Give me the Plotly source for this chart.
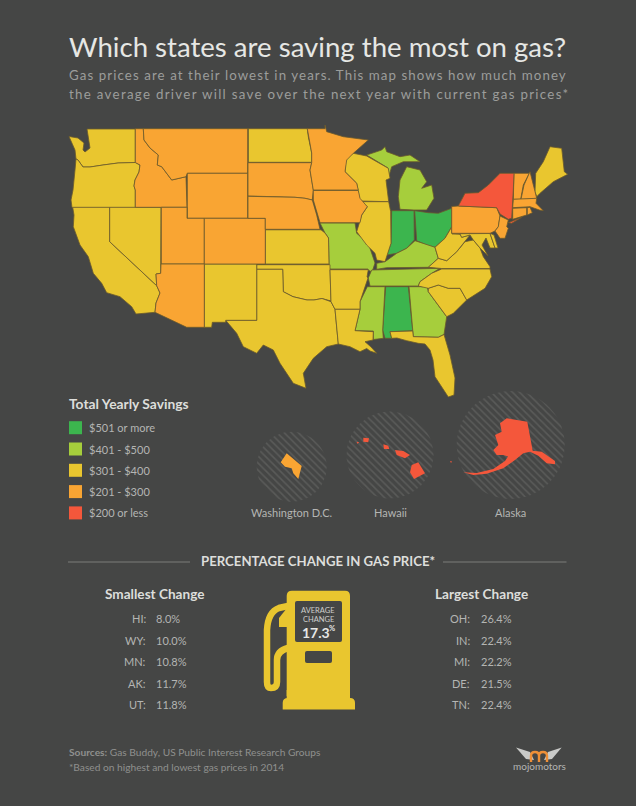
import numpy as np
import plotly.graph_objects as go

BG = "#454645"
GREEN = "#3CB54E"
LIME = "#A6CE3C"
YELLOW = "#E9C62F"
ORANGE = "#F9A533"
RED = "#F4573B"

# savings bucket for each state
over_500 = ["IN", "OH", "AL"]
from_401 = ["MI", "MO", "KY", "TN", "MS", "GA"]
from_301 = ["WA", "OR", "CA", "NV", "ND", "KS", "OK", "TX", "NM", "AR", "LA", "WI", "IL", "FL",
            "SC", "NC", "VA", "WV", "MD", "DE", "ME"]
from_201 = ["ID", "MT", "WY", "UT", "CO", "AZ", "SD", "NE", "MN", "IA", "PA", "NJ", "VT", "NH",
            "MA", "CT", "RI", "DC"]
under_200 = ["NY", "HI", "AK"]

legend_labels = ["$501 or more", "$401 - $500", "$301 - $400", "$201 - $300", "$200 or less"]
legend_colors = [GREEN, LIME, YELLOW, ORANGE, RED]

smallest_states = ["HI:", "WY:", "MN:", "AK:", "UT:"]
smallest_values = ["8.0%", "10.0%", "10.8%", "11.7%", "11.8%"]
largest_states = ["OH:", "IN:", "MI:", "DE:", "TN:"]
largest_values = ["26.4%", "22.4%", "22.2%", "21.5%", "22.4%"]

inset_names = ["Washington D.C.", "Hawaii", "Alaska"]
inset_x = [291.7, 390, 510.7]
inset_y = [466.7, 455, 445]
inset_r = [35, 43.5, 54]

# outlines, no map files offline
outlines = {
    "WA": [[(87,129),(135.3,129),(135.3,162.5),(118,163),(103,165),(90,167),(83,167),(78,160),(76,159),(75,150),(71,141),(69,136.5),(78,138),(84,143),(83,150),(85,152),(90,148),(89,140),(88,135)]],
    "OR": [[(76,159),(78,160),(83,167),(90,167),(103,165),(118,163),(135.3,162.5),(140,165),(139,172),(135,180),(134,186),(135.3,190),(135.3,207.5),(72,207.5),(71,200),(73,190),(75,170)]],
    "CA": [[(72.7,207.3),(109.7,207.3),(109.7,241.7),(156.7,285.7),(160,293),(156,303),(155,312.3),(136,314),(131.7,306.7),(120,296.7),(106.7,292.7),(101.7,283.3),(93.3,273.3),(88.3,256.7),(80,245),(73.3,226.7),(74,215)]],
    "NV": [[(109.7,207.3),(161,207.3),(160.7,273.3),(156,274),(156.7,285.7),(109.7,241.7)]],
    "ID": [[(135.3,128.7),(143.3,128.7),(144,140),(150,148),(158.3,155),(157.3,165),(161.7,166.7),(171.7,180),(186,176.7),(187,207.3),(135.3,207.3),(135.3,190),(134,186),(135,180),(139,172),(140,165),(135.3,162.5)]],
    "MT": [[(143.3,128.7),(247.7,128.7),(247.7,173.3),(187.3,173.3),(186,176.7),(171.7,180),(161.7,166.7),(157.3,165),(158.3,155),(150,148),(144,140)]],
    "WY": [[(187.3,173.3),(247.7,173.3),(247.7,218.3),(187.3,218.3)]],
    "UT": [[(161.3,207.3),(187,207.3),(187,218.3),(204.3,218.3),(204.3,264),(161.3,264)]],
    "CO": [[(204.3,218.3),(265.3,218.3),(265.3,264),(204.3,264)]],
    "AZ": [[(161,264),(204.3,264),(204.3,327.3),(186.7,327.3),(155,312.3),(156,303),(160,293),(156.7,285.7),(156,274),(160.7,273.3)]],
    "NM": [[(204.3,264),(256.7,264),(256.7,320.3),(225.7,320.3),(225.7,322.3),(212.3,322.3),(211.7,327.3),(204.3,327.3)]],
    "ND": [[(248.3,128.7),(307.3,128.7),(308.3,136.7),(311.7,153),(311.7,162.3),(248.3,162.3)]],
    "SD": [[(248,162.7),(311.7,162.7),(310,170),(313.3,190),(312.3,200),(305,198.3),(295,197.3),(248,196)]],
    "NE": [[(248,196.3),(295,197.3),(305,198.3),(312.3,200),(316.7,215),(320,229.3),(265.3,229.3),(265.3,218.3),(248,218.3)]],
    "KS": [[(265.3,229.8),(321,229.8),(325,233),(328.5,238),(329,264),(265.3,264)]],
    "OK": [[(256.7,264.7),(330,264.7),(330,269.5),(331,301),(322,298.5),(314,300),(307,300),(293,296.7),(283.3,291.7),(282.7,269.3),(256.7,269.3)]],
    "TX": [[(256.7,269.3),(282.7,269.3),(283.3,291.7),(293,296.7),(307,300),(314,300),(322,298.5),(331,301.7),(335,309.3),(338,340),(338.3,344),(326.7,346.7),(313.3,358.3),(303.3,373.3),(306,388.3),(293.3,383.3),(280,363.3),(273.3,350),(263.3,345),(256.7,353.3),(243.3,346.7),(236.7,333.3),(225.7,320.3),(256.7,320.3)]],
    "MN": [[(307.3,128.7),(325,128.7),(325,125),(326.7,131.7),(343.3,136.7),(368.3,140),(353.3,153.3),(346.7,160),(345,171.7),(356.7,183.3),(358.3,190),(313.3,190),(310,170),(311.7,162.7),(311.7,153),(308.3,136.7)]],
    "IA": [[(313.3,190.5),(358.3,190.5),(360,198.3),(367.3,206.7),(361.7,215),(360,222.7),(320,222.7),(318.3,216.7),(313.3,200)]],
    "MO": [[(320,223),(355,223),(356.7,233.3),(368.3,243.3),(375,263),(372,272),(368,270),(368,269),(329.7,269),(329,264),(328.5,238),(325,233)]],
    "AR": [[(330,269.7),(368.3,269.7),(367,277),(368,278),(360,301.7),(360,309.3),(335,309.3),(331,301.7)]],
    "LA": [[(335,309.3),(360,309.3),(355,330.7),(373.3,331.7),(373,340),(365,341.7),(371,347),(376.7,353.3),(370,351),(366.7,348.5),(360,351.7),(350,346.7),(338.3,344),(338,340)]],
    "WI": [[(346,158.3),(353.3,153.3),(366.7,156),(388.3,168.3),(390,178.3),(386,180),(388.7,201.7),(375,201.7),(360,201),(356.7,183.3),(345,171.7)]],
    "IL": [[(360,201.7),(388.7,201.7),(390.7,211.7),(391,243.3),(385,261.7),(376.7,260),(375,253.3),(366.7,245),(356.7,231.7),(361.7,215),(367.3,206.7)]],
    "IN": [[(391.7,210.7),(414,210.7),(414.3,240),(406.7,248.3),(396.7,253.3),(386.7,255),(391,243.3)]],
    "OH": [[(414.7,210.7),(428.3,212.7),(438.3,213.3),(451.7,208.3),(451.7,226.7),(445,238.3),(435,247.3),(426.7,245),(416.7,240.7)]],
    "MI": [[(400,209.3),(398.3,196.7),(400,180),(406.7,166.7),(420,170),(426.7,181.7),(421.7,188.3),(431.7,185),(434,198.3),(426.7,210),(414,210)],
           [(366.7,155),(381.7,150),(385,146.7),(386.7,151.7),(400,156.7),(410,155),(420,161.7),(403.3,161.7),(391.7,166.7),(388.3,178.3),(388,168)]],
    "KY": [[(376.7,263.3),(385,261.7),(396.7,253.3),(406.7,248.3),(415,240.7),(426.7,245),(435,247.3),(438.3,258.3),(428.3,267.3),(386.7,267.7),(376.7,269.3)]],
    "TN": [[(371.7,270),(440,268.3),(431.7,273.3),(420,281.7),(418.3,286),(370,286),(368.3,278)]],
    "MS": [[(367.3,286.7),(385,286.7),(382.7,330),(383.3,338.3),(373.3,339.5),(373.3,331),(355,330.7),(360,309.3),(360,301.7)]],
    "AL": [[(385.7,286.7),(408.3,286.7),(412.7,330.7),(390,331.7),(391.7,338.3),(385,338.3),(382.7,330)]],
    "GA": [[(409,286.7),(427.3,286.7),(428.3,291.7),(446.7,316.7),(444,334.5),(438.3,337.3),(413.3,336.7),(412.7,330.7)]],
    "FL": [[(390,331.7),(412.7,331),(413.3,336.7),(438.3,337.3),(444,334.5),(450,355),(455,378),(454,395),(448.3,397),(441.7,386.7),(435,376.7),(433,360),(430,350),(425,344),(418.3,343.3),(406.7,340.7),(397,338),(391.7,338.3)]],
    "SC": [[(428.3,288.3),(438.3,285),(448.3,288.3),(460,288.3),(466.7,300),(453.3,313.3),(446.7,316.7),(428.3,291.7)]],
    "NC": [[(441.7,269),(490,269),(491.7,276.7),(485,288.3),(466.7,300),(460,288.3),(448.3,288.3),(438.3,285),(428.3,288.3),(418.3,286),(420,281.7),(431.7,273.3)]],
    "VA": [[(428.3,267.3),(438.3,258.3),(446.7,260.7),(456.7,251.7),(465,241.7),(473.3,240),(480,248),(483.3,256.7),(490,266.7),(490,268.5),(441.7,268.5)]],
    "WV": [[(435,247.3),(445,238.3),(451.7,227),(451.7,233.3),(460,234),(461.7,237.3),(470,235),(465,241.7),(456.7,251.7),(446.7,260.7),(438.3,258.3)]],
    "MD": [[(452,233.8),(490,233.5),(495,248),(490,248),(486,238),(482,245),(488,256),(480,248),(473.3,240),(470,235),(461.7,237.3),(460,234)]],
    "DE": [[(490,233.3),(494,235),(498,248),(495,248)]],
    "PA": [[(451.7,206.5),(458.3,206),(496.7,207.7),(500,216),(498.3,226.7),(495,231),(490,233.3),(451.7,233.3)]],
    "NJ": [[(500,216),(508.3,220),(506.7,226.7),(508.3,228.3),(505,238.3),(500,238.3),(495,231),(498.3,226.7)]],
    "NY": [[(458.3,206),(465,193.3),(478.3,192.7),(488.3,185),(500,173.3),(514,173.3),(513.3,190),(512.7,208.3),(511.7,218.3),(508.3,219.3),(500,214),(496.7,207.7)],
           [(508.3,222.7),(521.7,217.3),(511.7,223.3)]],
    "VT": [[(514,173.3),(529.3,173.3),(523.3,185),(520.7,199.3),(513.3,199.3),(513.3,190)]],
    "NH": [[(530,171.7),(535,190),(536.7,198.3),(521,199.3),(524,185)]],
    "ME": [[(535,191.7),(535.7,173.3),(543.3,161.7),(550,146.7),(561.7,148.3),(564.3,171.7),(567.7,174.3),(553.3,181.7),(540,193.3),(536.7,196.7)]],
    "MA": [[(513.3,199.3),(536.7,198.3),(536,203.3),(543.3,210.7),(539.3,210),(530,206.7),(512.7,207.7)]],
    "CT": [[(512.7,208.3),(526.7,207.7),(526.7,215),(512.7,219.3)]],
    "RI": [[(527.3,207.7),(530,207.3),(532.3,212.7),(527.3,215)]],
    "DC": [[(280.7,462.3),(286.7,453.3),(301.7,466),(298.3,479),(293.3,473.3),(291.7,468.3),(285,466.7)]],
    "HI": [[(411.7,465),(418.3,462.3),(425,473.3),(414,479),(410,472.3)],
           [(395,450),(403.3,451),(410,455),(405,458.3),(396.7,455)],
           [(383.3,444.3),(388.3,445.7),(389.3,449),(384,449)],
           [(363.3,437.7),(369,438.3),(368.3,442.3),(363.3,441.7)],
           [(356.7,441.7),(359.3,442.3),(357.3,443.7)]],
    "AK": [[(500,423.3),(506.7,418.3),(527.3,421.7),(532.7,450.7),(541.7,451.7),(555,461),(555,464.3),(546.7,463.3),(538.3,455.7),(530,451.7),(523.3,453.3),(515,460),(503.3,468.3),(486.7,473.8),(473.3,475),(463.3,472.3),(476.7,473),(493.3,469),(505,461),(508,456.5),(503.3,455),(496.7,455),(493.3,450),(498.3,445),(495,435),(501.7,431.7)],
           [(450,461),(452,461.5),(451,463)]],
}


def text(x, y, s, size, color="#B4B5B3", anchor="left", family="Lato"):
    if anchor == "left":
        x = x - 1.5
    fig.add_annotation(x=x, y=y, text=s, showarrow=False, xanchor=anchor, yanchor="middle",
                       xref="x", yref="y", font=dict(size=size, color=color, family=family),
                       align=anchor)


fig = go.Figure()

# hatched circles behind the insets
angle = np.linspace(0, 2 * np.pi, 90)
for cx, cy, r in zip(inset_x, inset_y, inset_r):
    fig.add_trace(go.Scatter(x=cx + r * np.cos(angle), y=cy + r * np.sin(angle), mode="lines",
                             line=dict(width=0), fill="toself", fillcolor="rgba(0,0,0,0)",
                             fillpattern=dict(shape="\\", fgcolor="#6F706E", bgcolor=BG, size=5, solidity=0.3),
                             hoverinfo="skip"))

buckets = [(over_500, GREEN), (from_401, LIME), (from_301, YELLOW), (from_201, ORANGE), (under_200, RED)]
for states, color in buckets:
    for st in states:
        for part in outlines[st]:
            xs = [p[0] for p in part] + [part[0][0]]
            ys = [p[1] for p in part] + [part[0][1]]
            border = 0 if st in ["DC", "HI", "AK"] else 0.8
            fig.add_trace(go.Scatter(x=xs, y=ys, mode="lines", fill="toself", fillcolor=color,
                                     line=dict(color="#6B5A2C", width=border), name=st, hoverinfo="name"))

# legend squares
fig.add_trace(go.Scatter(x=[75.5] * 5, y=[427.7 + 21.3 * i for i in range(5)], mode="markers",
                         marker=dict(symbol="square", size=13, color=legend_colors), hoverinfo="skip"))

text(68, 46, "Which states are saving the most on gas?", 27.6, "#E6E7E4")
text(68, 75, "Gas prices are at their lowest in years. This map shows how much money", 13.3, "#9C9D9B")
text(68, 94, "the average driver will save over the next year with current gas prices*", 13.3, "#9C9D9B")

text(68, 403, "<b>Total Yearly Savings</b>", 13.8, "#DDDEDB")
for i, lab in enumerate(legend_labels):
    text(88, 427.7 + 21.3 * i, lab, 11, "#B4B5B3")

for cx, cy, r, name in zip(inset_x, [512, 512, 512], inset_r, inset_names):
    text(cx, cy, name, 11, "#B4B5B3", "center")

text(318, 561, "<b>PERCENTAGE CHANGE IN GAS PRICE*</b>", 13.2, "#DDDEDB", "center")
text(155, 594, "<b>Smallest Change</b>", 13.6, "#DDDEDB", "center")
text(481.7, 594, "<b>Largest Change</b>", 13.6, "#DDDEDB", "center")
for i in range(5):
    y = 618.5 + 21.5 * i
    text(147.5, y, smallest_states[i], 11, "#B4B5B3", "right")
    text(155, y, smallest_values[i], 11, "#B4B5B3")
    text(471.7, y, largest_states[i], 11, "#B4B5B3", "right")
    text(480, y, largest_values[i], 11, "#B4B5B3")

text(68, 752, "<b>Sources:</b> Gas Buddy, US Public Interest Research Groups", 10.2, "#8F908E")
text(68, 767, "*Based on highest and lowest gas prices in 2014", 10.2, "#8F908E")
text(539, 766, "mojomotors", 10, "#B4B5B3", "center")

text(318.3, 610, "AVERAGE", 7.5, "#CFCFCD", "center")
text(318.3, 619, "CHANGE", 7.5, "#CFCFCD", "center")
text(301.7, 632, "<b>17.3</b>", 14, "#E6E7E4")
text(328.5, 628, "<b>%</b>", 7.5, "#E6E7E4")

shapes = [
    dict(type="line", x0=68, x1=190, y0=562, y1=562, line=dict(color="#8A8B88", width=0.8)),
    dict(type="line", x0=443, x1=566.5, y0=562, y1=562, line=dict(color="#8A8B88", width=0.8)),
    # pump body and base
    dict(type="path", path="M 286.7 696 L 286.7 596 Q 286.7 590.7 292 590.7 L 345 590.7 Q 350 590.7 350 596 L 350 696 Z",
         fillcolor=YELLOW, line=dict(width=0)),
    dict(type="path", path="M 282.7 709.5 L 282.7 703 Q 282.7 698 288 698 L 350 698 Q 355 698 355 703 L 355 709.5 Z",
         fillcolor=YELLOW, line=dict(width=0)),
    dict(type="rect", x0=286.7, x1=350, y0=690, y1=700, fillcolor=YELLOW, line=dict(width=0)),
    # hose
    dict(type="path", path="M 288 606 L 279 608 Q 268 612 267 630 L 267 682 Q 267 688 271 688 Q 277 688 277 682 L 277 660 Q 277 651 288 648",
         line=dict(color=YELLOW, width=6.5)),
    dict(type="path", path="M 279 627 L 279 618 L 287 608 L 287 627 Z", fillcolor=YELLOW, line=dict(width=0)),
    # pump screen and slot
    dict(type="path", path="M 295 603 Q 295 601 297 601 L 340 601 Q 342 601 342 603 L 342 640 Q 342 642 340 642 L 297 642 Q 295 642 295 640 Z",
         fillcolor=BG, line=dict(width=0)),
    dict(type="path", path="M 305 653 Q 305 651 307 651 L 330 651 Q 332 651 332 653 L 332 661 Q 332 663 330 663 L 307 663 Q 305 663 305 661 Z",
         fillcolor=BG, line=dict(width=0)),
    # logo wings and m
    dict(type="path", path="M 516 747.5 L 530 752 L 534 760 L 526 759 Z", fillcolor="#C9CAC8", line=dict(width=0)),
    dict(type="path", path="M 561.7 747.5 L 548 752 L 544 760 L 552 759 Z", fillcolor="#C9CAC8", line=dict(width=0)),
    dict(type="path", path="M 531 762 L 531 756 Q 531 752 535 752 Q 539 752 539 756 L 539 762 M 539 756 Q 539 752 543 752 Q 547 752 547 756 L 547 762",
         line=dict(color="#EE8F37", width=2.4)),
]

fig.update_layout(width=636, height=806, margin=dict(l=0, r=0, t=0, b=0), showlegend=False,
                  paper_bgcolor=BG, plot_bgcolor=BG, shapes=shapes,
                  xaxis=dict(range=[0, 636], visible=False, fixedrange=True),
                  yaxis=dict(range=[806, 0], visible=False, fixedrange=True))

# plotly has no letter spacing setting, the subtitle needs it to fill the width
post = """
document.body.style.margin='0';
document.body.style.background='%s';
document.querySelectorAll('.annotation-text').forEach(function(t){
  if(t.textContent.startsWith('Gas prices')){t.style.letterSpacing='1.08px';}
  if(t.textContent.startsWith('the average')){t.style.letterSpacing='1.3px';}
});
""" % BG
fig.write_html("out.html", config=dict(displayModeBar=False), post_script=post)
